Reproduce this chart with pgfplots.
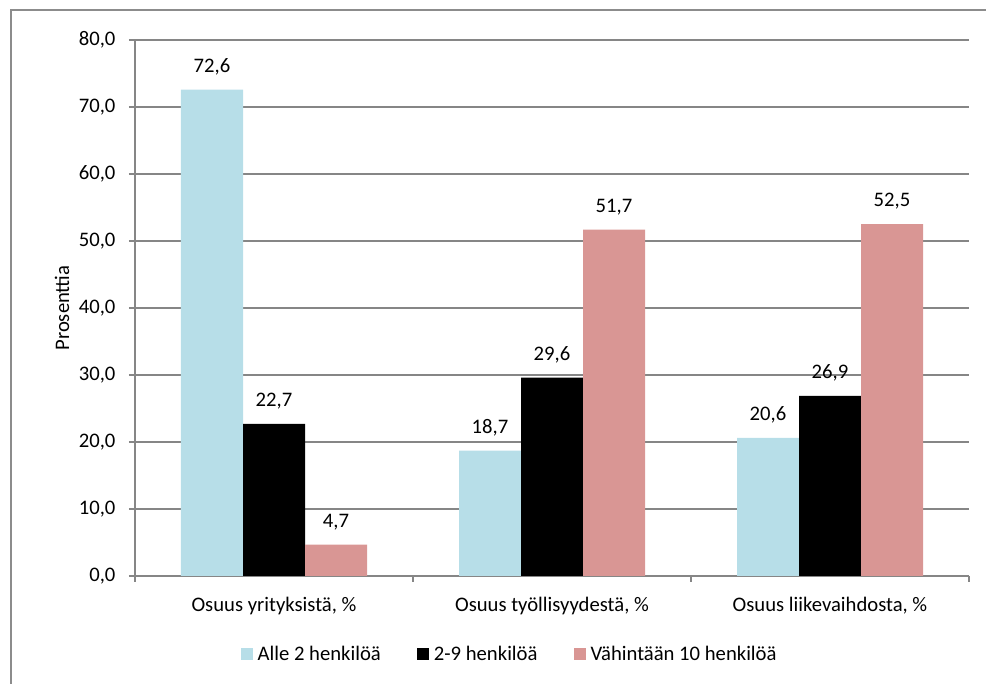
\documentclass[border=0pt]{standalone}
\usepackage{pgfplots}
\pgfplotsset{compat=1.18}
\usepackage{fontspec}
\setmainfont{Carlito}
\definecolor{cblue}{HTML}{B7DEE8}
\definecolor{cpink}{HTML}{D99694}
\definecolor{cgrid}{HTML}{868686}
\definecolor{cborder}{HTML}{8C8C8C}
\newcommand\cfont{\fontsize{15.5}{18}\selectfont}
\begin{document}
\begin{tikzpicture}[font=\cfont]
\useasboundingbox (0,0) rectangle (739.5pt,513pt);
\draw[cborder, line width=1.1pt] (8.25pt,0) -- (8.25pt,505.5pt) -- (739.5pt,505.5pt);
\begin{axis}[
  at={(101.25pt,81pt)}, anchor=south west,
  scale only axis, width=625.5pt, height=402pt,
  ybar=0pt, bar width=46.5pt,
  xmin=-0.5, xmax=2.5, ymin=0, ymax=80,
  axis x line*=bottom, axis y line*=left,
  axis line style={cgrid, line width=0.8pt},
  xtick={0,1,2},
  xticklabels={{Osuus yrityksistä, \%},{Osuus työllisyydestä, \%},{Osuus liikevaihdosta, \%}},
  major x tick style={draw=none},
  minor xtick={-0.5,0.5,1.5,2.5},
  minor x tick style={cgrid, line width=0.8pt},
  minor tick length=4.5pt,
  ytick={0,10,...,80},
  y tick style={cgrid, line width=0.8pt},
  major tick length=4.5pt,
  tick align=outside,
  ymajorgrids, major grid style={cgrid, line width=0.8pt},
  tick label style={font=\cfont},
  label style={font=\cfont},
  yticklabel style={/pgf/number format/fixed, /pgf/number format/fixed zerofill, /pgf/number format/precision=1, /pgf/number format/use comma, /pgf/number format/assume math mode=true, inner sep=0pt, xshift=-10pt},
  xticklabel style={anchor=base, inner sep=0pt, yshift=-22.5pt},
  ylabel={Prosenttia},
  ylabel style={at={(axis description cs:-0.0875,0.5)}, anchor=center},
  nodes near coords={\pgfmathprintnumber[fixed,fixed zerofill,precision=1,use comma,assume math mode=true]{\pgfplotspointmeta}},
  every node near coord/.append style={anchor=base, inner sep=0pt, yshift=13pt, text=black, font=\cfont},
  legend columns=3,
  legend style={draw=none, fill=none, at={(axis description cs:0.448,-0.1455)}, anchor=center,
    font=\cfont,
    nodes={inner sep=0pt},
    /tikz/every odd column/.append style={column sep=3.75pt},
    /tikz/every even column/.append style={column sep=27pt},
    legend cell align=left, inner sep=0pt},
  legend image code/.code={\fill[#1] (0pt,-4.5pt) rectangle (9pt,4.5pt);},
]
\addplot[fill=cblue, draw=none] coordinates {(0,72.6) (1,18.7) (2,20.6)};
\addplot[fill=black, draw=none] coordinates {(0,22.7) (1,29.6) (2,26.9)};
\addplot[fill=cpink, draw=none] coordinates {(0,4.7) (1,51.7) (2,52.5)};
\legend{Alle 2 henkilöä, 2-9 henkilöä, Vähintään 10 henkilöä}
\end{axis}
\end{tikzpicture}
\end{document}
